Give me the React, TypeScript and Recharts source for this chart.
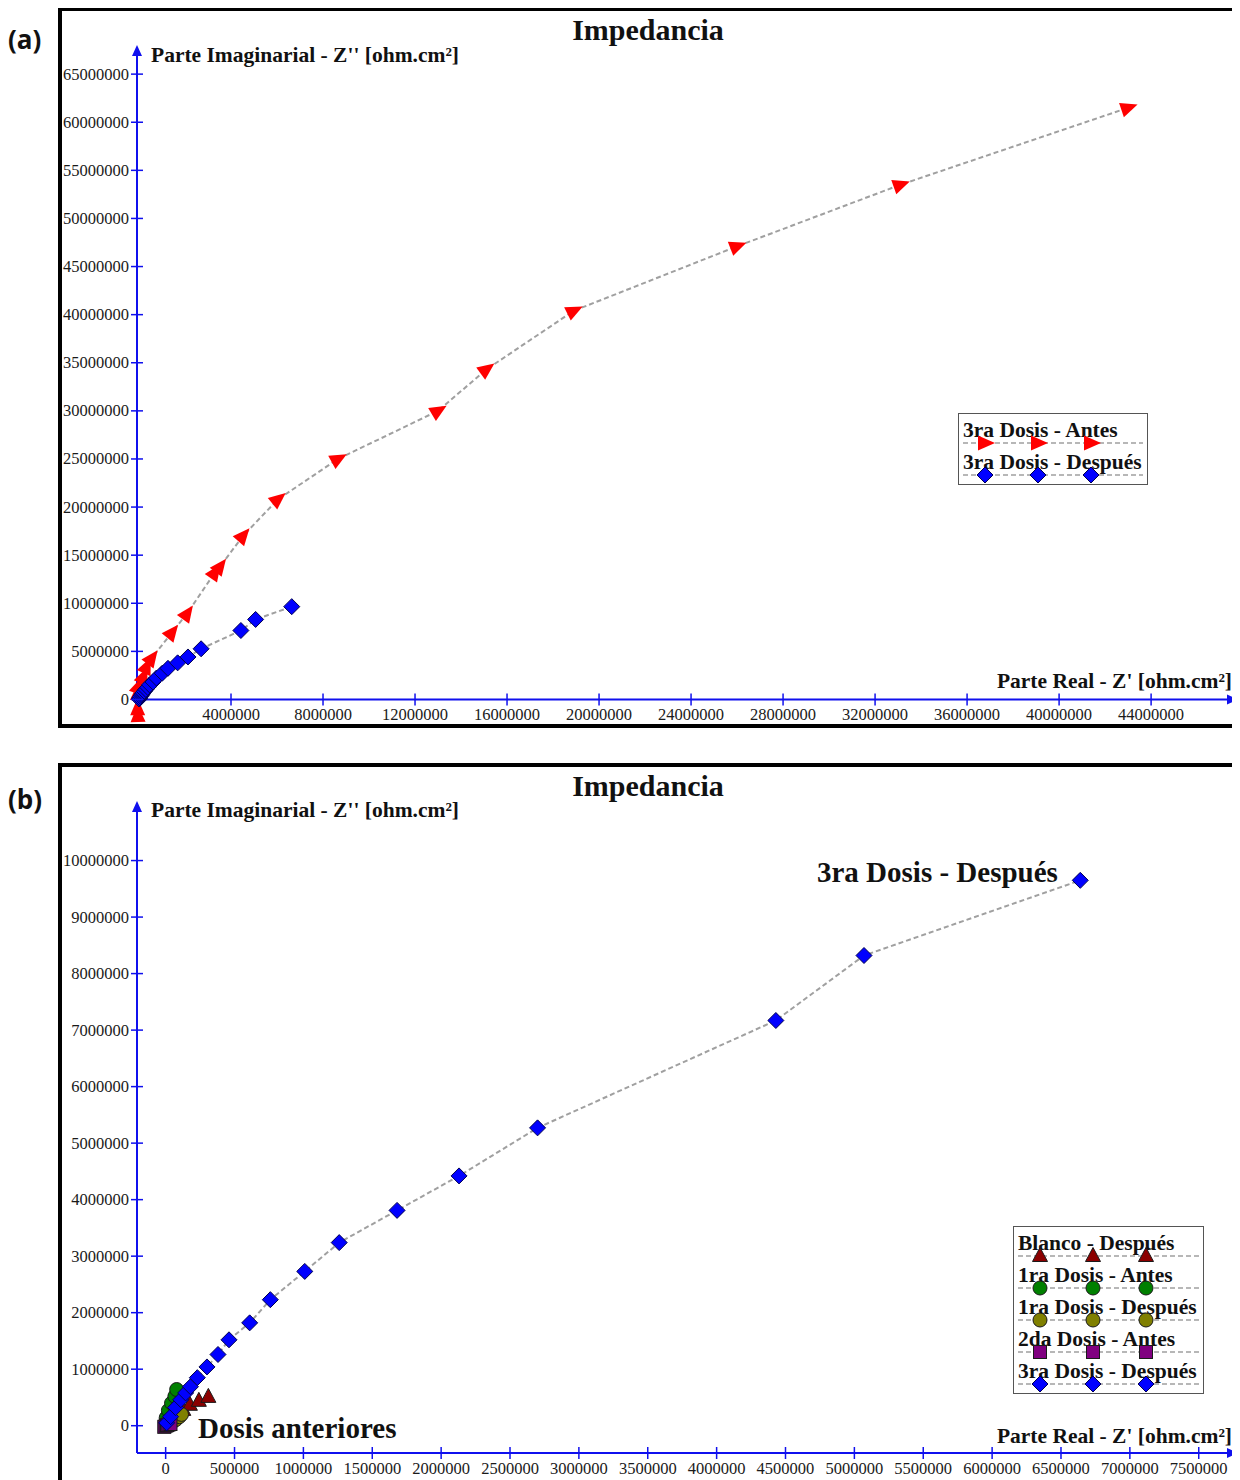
import React from 'react';
import { ScatterChart, Scatter, XAxis, YAxis, ReferenceLine, ReferenceDot } from 'recharts';

const BLUE = '#1010ee';
const SERIF = "'Liberation Serif', 'Times New Roman', serif";
const LINK = { stroke: '#a0a0a0', strokeWidth: 2, strokeDasharray: '5 3' };

// Z' (real) and -Z'' (imaginary), ohm.cm², ordered from the origin outwards
const dosis3AntesRe = [-50000, -60000, -60000, -30000, 190000, 330000, 550000, 1430000, 2090000, 3300000, 3520000, 4520000, 6040000, 8650000, 13000000, 15100000, 18900000, 26000000, 33100000, 43000000];
const dosis3AntesIm = [-1610000, -910000, 640000, 1330000, 2370000, 3410000, 4280000, 6960000, 8930000, 13200000, 13800000, 17000000, 20800000, 25000000, 30000000, 34300000, 40400000, 47100000, 53500000, 61500000];

const dosis3DespuesRe = [7000, 36000, 72000, 110000, 145000, 180000, 230000, 300000, 380000, 460000, 610000, 760000, 1010000, 1260000, 1680000, 2130000, 2700000, 4430000, 5070000, 6640000];
const dosis3DespuesIm = [50000, 160000, 320000, 460000, 580000, 690000, 850000, 1040000, 1260000, 1520000, 1820000, 2230000, 2730000, 3240000, 3810000, 4420000, 5270000, 7170000, 8320000, 9650000];

const blancoDespuesRe = [10000, 35000, 60000, 90000, 128000, 176000, 241000, 310000];
const blancoDespuesIm = [30000, 80000, 140000, 210000, 280000, 370000, 440000, 510000];

const dosis1AntesRe = [0, 4000, 20000, 43000, 67000, 80000];
const dosis1AntesIm = [30000, 140000, 270000, 400000, 520000, 640000];

const dosis1DespuesRe = [5000, 25000, 50000, 75000, 100000, 115000];
const dosis1DespuesIm = [5000, 30000, 70000, 110000, 160000, 200000];

const dosis2AntesRe = [-10000, 0, 10000, 20000, 35000];
const dosis2AntesIm = [-20000, 0, 10000, 20000, 30000];

const ticksAX = [4000000, 8000000, 12000000, 16000000, 20000000, 24000000, 28000000, 32000000, 36000000, 40000000, 44000000];
const ticksAY = [0, 5000000, 10000000, 15000000, 20000000, 25000000, 30000000, 35000000, 40000000, 45000000, 50000000, 55000000, 60000000, 65000000];
const ticksBX = [0, 500000, 1000000, 1500000, 2000000, 2500000, 3000000, 3500000, 4000000, 4500000, 5000000, 5500000, 6000000, 6500000, 7000000, 7500000];
const ticksBY = [0, 1000000, 2000000, 3000000, 4000000, 5000000, 6000000, 7000000, 8000000, 9000000, 10000000];

type Kind = 'arrow' | 'diamond' | 'triangle' | 'circle' | 'square';

function Marker({ kind, cx, cy, fill, angle = 0 }: { kind: Kind; cx: number; cy: number; fill: string; angle?: number }) {
  const edge = '#1a1a1a';
  if (kind === 'arrow')
    return <polygon points="10,0 -7,-7.5 -7,7.5" transform={`translate(${cx},${cy}) rotate(${angle})`} fill={fill} />;
  if (kind === 'diamond')
    return <polygon points={`${cx},${cy - 8} ${cx + 8},${cy} ${cx},${cy + 8} ${cx - 8},${cy}`} fill={fill} stroke="#000050" strokeWidth={1} />;
  if (kind === 'triangle')
    return <polygon points={`${cx},${cy - 8.5} ${cx + 7.5},${cy + 5.5} ${cx - 7.5},${cy + 5.5}`} fill={fill} stroke={edge} strokeWidth={1} />;
  if (kind === 'circle') return <circle cx={cx} cy={cy} r={7} fill={fill} stroke={edge} strokeWidth={1} />;
  return <rect x={cx - 6.5} y={cy - 6.5} width={13} height={13} fill={fill} stroke={edge} strokeWidth={1} />;
}

type Series = { name: string; re: number[]; im: number[]; kind: Kind; color: string };

const seriesA: Series[] = [
  { name: '3ra Dosis - Antes', re: dosis3AntesRe, im: dosis3AntesIm, kind: 'arrow', color: '#ff0000' },
  { name: '3ra Dosis - Después', re: dosis3DespuesRe, im: dosis3DespuesIm, kind: 'diamond', color: '#0000ff' },
];

const seriesB: Series[] = [
  { name: 'Blanco - Después', re: blancoDespuesRe, im: blancoDespuesIm, kind: 'triangle', color: '#8b0000' },
  { name: '1ra Dosis - Antes', re: dosis1AntesRe, im: dosis1AntesIm, kind: 'circle', color: '#008000' },
  { name: '1ra Dosis - Después', re: dosis1DespuesRe, im: dosis1DespuesIm, kind: 'circle', color: '#808000' },
  { name: '2da Dosis - Antes', re: dosis2AntesRe, im: dosis2AntesIm, kind: 'square', color: '#800080' },
  { name: '3ra Dosis - Después', re: dosis3DespuesRe, im: dosis3DespuesIm, kind: 'diamond', color: '#0000ff' },
];

type PanelProps = {
  series: Series[];
  H: number;
  B: number;
  xDom: [number, number];
  yDom: [number, number];
  xTicks: number[];
  yTicks: number[];
  axisAt: number; // value of Z'' where the real axis is drawn
};

const W = 1174;
const L = 75;
const T = 41;
const R = 1168;

function Panel({ series, H, B, xDom, yDom, xTicks, yTicks, axisAt }: PanelProps) {
  const sx = (R - L) / (xDom[1] - xDom[0]);
  const sy = (B - T) / (yDom[1] - yDom[0]);
  const axisY = T + (yDom[1] - axisAt) * sy;

  const tables = series.map((s) =>
    s.re.map((x, i) => {
      const p = Math.max(0, i - 1);
      const n = Math.min(s.re.length - 1, i + 1);
      const dx = (s.re[n] - s.re[p]) * sx;
      const dy = -(s.im[n] - s.im[p]) * sy;
      return { x, y: s.im[i], angle: (Math.atan2(dy, dx) * 180) / Math.PI };
    })
  );

  const xTick = (props: any) => {
    const { x, payload } = props;
    return (
      <g>
        <line x1={x} x2={x} y1={axisY - 6} y2={axisY + 6} stroke={BLUE} strokeWidth={1.5} />
        <text x={x} y={axisY + 21} textAnchor="middle" fontSize={16.5} fontFamily={SERIF} fill="#1a1a1a">
          {payload.value}
        </text>
      </g>
    );
  };

  const yTick = (props: any) => {
    const { y, payload } = props;
    return (
      <g>
        <line x1={L - 6} x2={L + 6} y1={y} y2={y} stroke={BLUE} strokeWidth={1.5} />
        <text x={L - 8} y={y + 5.5} textAnchor="end" fontSize={16.5} fontFamily={SERIF} fill="#1a1a1a">
          {payload.value}
        </text>
      </g>
    );
  };

  return (
    <ScatterChart width={W} height={H} margin={{ top: T, right: W - R, left: 0, bottom: 0 }}>
      <XAxis
        type="number"
        dataKey="x"
        domain={xDom}
        ticks={xTicks}
        interval={0}
        height={H - B}
        axisLine={false}
        tickLine={false}
        tick={xTick}
      />
      <YAxis
        type="number"
        dataKey="y"
        domain={yDom}
        ticks={yTicks}
        interval={0}
        width={L}
        axisLine={false}
        tickLine={false}
        tick={yTick}
      />
      <ReferenceLine
        segment={[{ x: xDom[0], y: axisAt }, { x: xDom[1], y: axisAt }]}
        stroke={BLUE}
        strokeWidth={2}
        ifOverflow="visible"
      />
      <ReferenceLine
        segment={[{ x: xDom[0], y: axisAt }, { x: xDom[0], y: yDom[1] }]}
        stroke={BLUE}
        strokeWidth={2}
        ifOverflow="visible"
      />
      <ReferenceDot
        x={xDom[0]}
        y={yDom[1]}
        ifOverflow="visible"
        shape={(p: any) => <polygon points={`${p.cx},${p.cy - 7} ${p.cx + 5},${p.cy + 4} ${p.cx - 5},${p.cy + 4}`} fill={BLUE} />}
      />
      <ReferenceDot
        x={xDom[1]}
        y={axisAt}
        ifOverflow="visible"
        shape={(p: any) => <polygon points={`${p.cx + 8},${p.cy} ${p.cx - 3},${p.cy - 5} ${p.cx - 3},${p.cy + 5}`} fill={BLUE} />}
      />
      {series.map((s, k) => (
        <Scatter
          key={s.name}
          name={s.name}
          data={tables[k]}
          line={LINK}
          lineType="joint"
          isAnimationActive={false}
          shape={(p: any) => <Marker kind={s.kind} cx={p.cx} cy={p.cy} fill={s.color} angle={p.payload?.angle ?? 0} />}
        />
      ))}
    </ScatterChart>
  );
}

function LegendBox({ left, top, width, items }: { left: number; top: number; width: number; items: Series[] }) {
  return (
    <div
      style={{
        position: 'absolute',
        left,
        top,
        width,
        boxSizing: 'border-box',
        border: '1px solid #555',
        background: '#fff',
        padding: '3px 0 3px 0',
      }}
    >
      {items.map((it) => (
        <div key={it.name} style={{ position: 'relative', height: 32 }}>
          <div
            style={{
              position: 'absolute',
              left: 4,
              top: 3,
              lineHeight: '20px',
              fontFamily: SERIF,
              fontWeight: 'bold',
              fontSize: 21.5,
              color: '#111',
              whiteSpace: 'nowrap',
            }}
          >
            {it.name}
          </div>
          <svg width={width - 2} height={16} style={{ position: 'absolute', left: 0, top: 18, overflow: 'visible' }}>
            <line x1={4} x2={width - 6} y1={8} y2={8} stroke="#a0a0a0" strokeWidth={1.5} strokeDasharray="5 3" />
            {[26, 79, 132].map((cx) => (
              <Marker key={cx} kind={it.kind} cx={cx} cy={8} fill={it.color} />
            ))}
          </svg>
        </div>
      ))}
    </div>
  );
}

const frame: React.CSSProperties = {
  position: 'absolute',
  left: 50,
  width: 1178,
  boxSizing: 'border-box',
  border: '4px solid #000',
  background: '#fff',
};

export default function App() {
  return (
    <div style={{ position: 'relative', width: 1232, height: 1472, overflow: 'hidden', background: '#fff' }}>
      <div style={{ ...frame, top: -1, height: 721 }} />
      <div style={{ ...frame, top: 755, height: 740 }} />

      <div style={{ position: 'absolute', left: 54, top: 3 }}>
        <Panel
          series={seriesA}
          H={712}
          B={711}
          xDom={[-87000, 47430000]}
          yDom={[-2340000, 67300000]}
          xTicks={ticksAX}
          yTicks={ticksAY}
          axisAt={0}
        />
      </div>
      <div style={{ position: 'absolute', left: 54, top: 759 }}>
        <Panel
          series={seriesB}
          H={713}
          B={686}
          xDom={[-208000, 7727000]}
          yDom={[-483000, 10930000]}
          xTicks={ticksBX}
          yTicks={ticksBY}
          axisAt={-483000}
        />
      </div>

      <svg width={1232} height={1472} style={{ position: 'absolute', left: 0, top: 0, pointerEvents: 'none' }}>
        <g fontFamily="'Open Sans', 'Liberation Sans', sans-serif" fontWeight="bold" fontSize={26} fill="#111">
          <text x={0} y={41}>(a)</text>
          <text x={0} y={801}>(b)</text>
        </g>
        <g fontFamily={SERIF} fontWeight="bold" fill="#111">
          <text x={640} y={32} fontSize={30} textAnchor="middle">Impedancia</text>
          <text x={640} y={788} fontSize={30} textAnchor="middle">Impedancia</text>
          <text x={143} y={54.1} fontSize={21.5}>Parte Imaginarial - Z'' [ohm.cm²]</text>
          <text x={143} y={809.1} fontSize={21.5}>Parte Imaginarial - Z'' [ohm.cm²]</text>
          <text x={1224} y={680.1} fontSize={21.5} textAnchor="end">Parte Real - Z' [ohm.cm²]</text>
          <text x={1224} y={1435.1} fontSize={21.5} textAnchor="end">Parte Real - Z' [ohm.cm²]</text>
          <text x={809} y={873.6} fontSize={29}>3ra Dosis - Después</text>
          <text x={190} y={1429.6} fontSize={29}>Dosis anteriores</text>
        </g>
      </svg>

      <LegendBox left={950} top={405} width={190} items={seriesA} />
      <LegendBox left={1005} top={1218} width={191} items={seriesB} />
    </div>
  );
}
